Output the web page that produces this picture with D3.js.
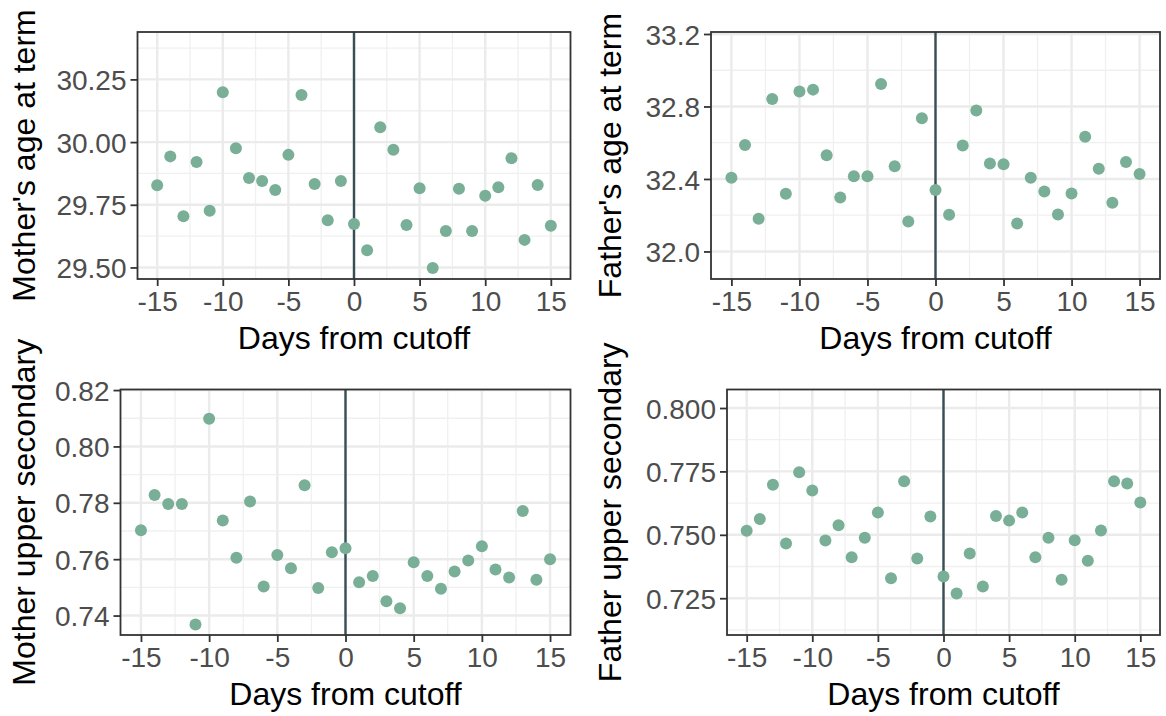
<!DOCTYPE html>
<html>
<head>
<meta charset="utf-8">
<script src="https://cdn.jsdelivr.net/npm/d3@7"></script>
<style>
  html, body { margin: 0; padding: 0; background: #ffffff; }
  svg { display: block; font-family: "Liberation Sans", Arial, sans-serif; }
</style>
</head>
<body>
<svg id="chart" width="1166" height="716"></svg>
<script>
// ---- Data ----
const days = d3.range(-15, 16);
const motherAge = [29.828, 29.943, 29.704, 29.921, 29.726, 30.199, 29.975, 29.857, 29.845, 29.809,
  29.949, 30.188, 29.833, 29.688, 29.845, 29.673, 29.569, 30.059, 29.969, 29.669,
  29.816, 29.498, 29.645, 29.814, 29.645, 29.786, 29.820, 29.936, 29.610, 29.829, 29.666];
const fatherAge = [32.407, 32.587, 32.181, 32.841, 32.319, 32.883, 32.893, 32.531, 32.298, 32.415,
  32.415, 32.924, 32.470, 32.165, 32.735, 32.339, 32.202, 32.585, 32.778, 32.485,
  32.481, 32.154, 32.407, 32.331, 32.204, 32.320, 32.633, 32.456, 32.269, 32.494, 32.428];
const motherSec = [0.7703, 0.7828, 0.7796, 0.7796, 0.7368, 0.8098, 0.7737, 0.7605, 0.7805, 0.7503,
  0.7615, 0.7568, 0.7862, 0.7498, 0.7625, 0.7639, 0.7518, 0.7540, 0.7451, 0.7426,
  0.7589, 0.7540, 0.7495, 0.7556, 0.7595, 0.7646, 0.7563, 0.7535, 0.7771, 0.7527, 0.7600];
const fatherSec = [0.7516, 0.7562, 0.7697, 0.7466, 0.7747, 0.7675, 0.7478, 0.7538, 0.7412, 0.7488,
  0.7588, 0.7329, 0.7711, 0.7407, 0.7572, 0.7336, 0.7269, 0.7426, 0.7296, 0.7574,
  0.7556, 0.7588, 0.7412, 0.7488, 0.7323, 0.7479, 0.7398, 0.7517, 0.7711, 0.7702, 0.7627];

const xTicks = [-15, -10, -5, 0, 5, 10, 15];
const xMinor = [-12.5, -7.5, -2.5, 2.5, 7.5, 12.5];
const yTicksMotherAge = [29.5, 29.75, 30.0, 30.25];
const yTicksFatherAge = [32.0, 32.4, 32.8, 33.2];
const yTicksMotherSec = [0.74, 0.76, 0.78, 0.80, 0.82];
const yTicksFatherSec = [0.725, 0.75, 0.775, 0.80];
const xTitle = "Days from cutoff";

// ---- Panels ----
const panels = [
  { values: motherAge, title: "Mother's age at term", ticks: yTicksMotherAge, fmt: ".2f",
    domain: [29.454, 30.439], box: { x0: 137.5, x1: 570.5, y0: 32, y1: 279 }, titleX: 35 },
  { values: fatherAge, title: "Father's age at term", ticks: yTicksFatherAge, fmt: ".1f",
    domain: [31.848, 33.211], box: { x0: 711, x1: 1160, y0: 32, y1: 279 }, titleX: 621 },
  { values: motherSec, title: "Mother upper secondary", ticks: yTicksMotherSec, fmt: ".2f",
    domain: [0.7331, 0.8202], box: { x0: 120.5, x1: 570.5, y0: 389.5, y1: 635 }, titleX: 35 },
  { values: fatherSec, title: "Father upper secondary", ticks: yTicksFatherSec, fmt: ".3f",
    domain: [0.7105, 0.8073], box: { x0: 727, x1: 1160, y0: 389.5, y1: 635 }, titleX: 621 }
];

const svg = d3.select("#chart");
const pointColor = "#79AF97";
const vlineColor = "#374E55";
const tickFont = 28, titleFont = 32;

panels.forEach(p => {
  const b = p.box;
  const x = d3.scaleLinear().domain([-16.5, 16.5]).range([b.x0, b.x1]);
  const y = d3.scaleLinear().domain(p.domain).range([b.y1, b.y0]);
  const g = svg.append("g");

  const step = p.ticks[1] - p.ticks[0];
  const yMinor = [p.ticks[0] - step / 2].concat(p.ticks.map(t => t + step / 2))
    .filter(v => v > p.domain[0] && v < p.domain[1]);

  g.append("rect").attr("x", b.x0).attr("y", b.y0).attr("width", b.x1 - b.x0).attr("height", b.y1 - b.y0)
    .attr("fill", "#ffffff");

  g.selectAll(".ymin").data(yMinor).join("line")
    .attr("x1", b.x0).attr("x2", b.x1).attr("y1", d => y(d)).attr("y2", d => y(d))
    .attr("stroke", "#F0F0F0").attr("stroke-width", 1.3);
  g.selectAll(".xmin").data(xMinor).join("line")
    .attr("y1", b.y0).attr("y2", b.y1).attr("x1", d => x(d)).attr("x2", d => x(d))
    .attr("stroke", "#F0F0F0").attr("stroke-width", 1.3);
  g.selectAll(".ymaj").data(p.ticks.filter(v => v >= p.domain[0] && v <= p.domain[1])).join("line")
    .attr("x1", b.x0).attr("x2", b.x1).attr("y1", d => y(d)).attr("y2", d => y(d))
    .attr("stroke", "#EBEBEB").attr("stroke-width", 2.4);
  g.selectAll(".xmaj").data(xTicks).join("line")
    .attr("y1", b.y0).attr("y2", b.y1).attr("x1", d => x(d)).attr("x2", d => x(d))
    .attr("stroke", "#EBEBEB").attr("stroke-width", 2.4);

  g.append("line").attr("x1", x(0)).attr("x2", x(0)).attr("y1", b.y0).attr("y2", b.y1)
    .attr("stroke", vlineColor).attr("stroke-width", 2.4);

  g.selectAll("circle").data(days.map((d, i) => [d, p.values[i]])).join("circle")
    .attr("cx", d => x(d[0])).attr("cy", d => y(d[1])).attr("r", 6)
    .attr("fill", pointColor);

  g.append("rect").attr("x", b.x0).attr("y", b.y0).attr("width", b.x1 - b.x0).attr("height", b.y1 - b.y0)
    .attr("fill", "none").attr("stroke", "#333333").attr("stroke-width", 1.8);

  const xAxis = d3.axisBottom(x).tickValues(xTicks).tickSize(7).tickPadding(4).tickFormat(d3.format("d"));
  const xg = g.append("g").attr("transform", `translate(0,${b.y1})`).call(xAxis);
  const yAxis = d3.axisLeft(y).tickValues(p.ticks).tickSize(7).tickPadding(4).tickFormat(d3.format(p.fmt));
  const yg = g.append("g").attr("transform", `translate(${b.x0},0)`).call(yAxis);
  [xg, yg].forEach(a => {
    a.select(".domain").remove();
    a.selectAll(".tick line").attr("stroke", "#333333").attr("stroke-width", 1.8);
    a.selectAll(".tick text").attr("fill", "#4D4D4D").style("font-size", tickFont + "px")
      .style("font-family", "'Liberation Sans', Arial, sans-serif");
  });
  xg.selectAll(".tick text").text(d => d < 0 ? "-" + Math.abs(d) : d).attr("dy", "0.74em");
  yg.selectAll(".tick text").attr("dy", "0.36em");

  g.append("text").attr("x", (b.x0 + b.x1) / 2).attr("y", b.y1 + 70)
    .attr("text-anchor", "middle").attr("fill", "#000000").style("font-size", titleFont + "px")
    .text(xTitle);
  g.append("text").attr("transform", `translate(${p.titleX},${(b.y0 + b.y1) / 2}) rotate(-90)`)
    .attr("text-anchor", "middle").attr("fill", "#000000").style("font-size", titleFont + "px")
    .text(p.title);
});
</script>
</body>
</html>
